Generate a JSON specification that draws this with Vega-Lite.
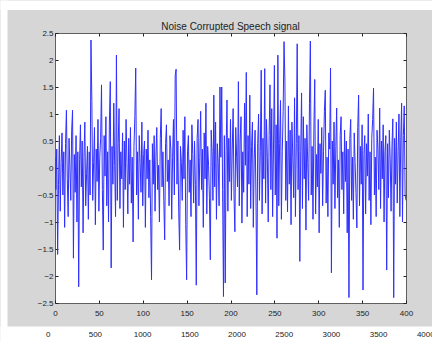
{
"$schema": "https://vega.github.io/schema/vega-lite/v6.json",
"width": 351, "height": 270,
"autosize": "none",
"padding": {"left": 55, "top": 33, "right": 26, "bottom": 38},
"background": "#d6d6d6",
"config": {"view": {"fill": "white", "stroke": "#606060", "strokeWidth": 1},
  "axis": {"labelFont": "Liberation Sans", "labelFontSize": 8, "labelColor": "#222222", "domain": false, "grid": false, "tickColor": "#222222", "tickSize": -3, "title": null}},
"title": {"text": "Noise Corrupted Speech signal", "font": "Liberation Sans", "fontSize": 10, "fontWeight": "normal", "color": "#222222", "offset": 0, "dy": 27, "zindex": 1},
"data": {"values": [
{"x":0,"y":0.2},{"x":1,"y":-0.4},{"x":2,"y":0.35},{"x":3,"y":-1.6},{"x":4,"y":-0.3},{"x":5,"y":0.6},{"x":6,"y":-0.8},{"x":7,"y":0.1},{"x":8,"y":0.65},{"x":9,"y":-0.5},
{"x":10,"y":0.3},{"x":11,"y":-1.1},{"x":12,"y":0.45},{"x":13,"y":1.07},{"x":14,"y":-0.2},{"x":15,"y":-0.9},{"x":16,"y":0.55},{"x":17,"y":0},{"x":18,"y":-0.6},{"x":19,"y":0.7},
{"x":20,"y":1.07},{"x":21,"y":-1.67},{"x":22,"y":0.25},{"x":23,"y":-0.45},{"x":24,"y":0.6},{"x":25,"y":-1},{"x":26,"y":0.3},{"x":27,"y":-2.2},{"x":28,"y":0.15},{"x":29,"y":0.8},
{"x":30,"y":-0.35},{"x":31,"y":0.5},{"x":32,"y":-1.2},{"x":33,"y":0.2},{"x":34,"y":0.85},{"x":35,"y":-0.7},{"x":36,"y":-0.1},{"x":37,"y":0.4},{"x":38,"y":-0.95},{"x":39,"y":0.3},
{"x":40,"y":-0.5},{"x":41,"y":2.37},{"x":42,"y":1.23},{"x":43,"y":-0.6},{"x":44,"y":0.1},{"x":45,"y":0.75},{"x":46,"y":-1.05},{"x":47,"y":0.35},{"x":48,"y":-0.25},{"x":49,"y":0.9},
{"x":50,"y":-0.8},{"x":51,"y":0.2},{"x":52,"y":0.55},{"x":53,"y":1.54},{"x":54,"y":-0.4},{"x":55,"y":-1.52},{"x":56,"y":0.6},{"x":57,"y":-0.15},{"x":58,"y":0.95},{"x":59,"y":-0.7},
{"x":60,"y":0.3},{"x":61,"y":-1},{"x":62,"y":0.85},{"x":63,"y":1.6},{"x":64,"y":-1.85},{"x":65,"y":0.4},{"x":66,"y":-0.3},{"x":67,"y":1.2},{"x":68,"y":0.05},{"x":69,"y":-0.9},
{"x":70,"y":2.09},{"x":71,"y":-0.6},{"x":72,"y":0.45},{"x":73,"y":1.1},{"x":74,"y":-0.75},{"x":75,"y":0.3},{"x":76,"y":-0.2},{"x":77,"y":0.65},{"x":78,"y":-1.1},{"x":79,"y":0.5},
{"x":80,"y":-0.4},{"x":81,"y":0.9},{"x":82,"y":0.1},{"x":83,"y":-0.85},{"x":84,"y":0.55},{"x":85,"y":-0.3},{"x":86,"y":0.75},{"x":87,"y":-0.65},{"x":88,"y":0.2},{"x":89,"y":-1.37},
{"x":90,"y":0.4},{"x":91,"y":0.95},{"x":92,"y":1.85},{"x":93,"y":-0.5},{"x":94,"y":0.3},{"x":95,"y":-0.95},{"x":96,"y":0.6},{"x":97,"y":0.1},{"x":98,"y":-0.45},{"x":99,"y":0.85},
{"x":100,"y":-0.7},{"x":101,"y":0.25},{"x":102,"y":0.5},{"x":103,"y":-1.1},{"x":104,"y":0.35},{"x":105,"y":-0.2},{"x":106,"y":0.7},{"x":107,"y":-0.55},{"x":108,"y":0.15},{"x":109,"y":-0.9},
{"x":110,"y":-2.07},{"x":111,"y":0.45},{"x":112,"y":-0.3},{"x":113,"y":0.6},{"x":114,"y":-0.8},{"x":115,"y":0.2},{"x":116,"y":0.75},{"x":117,"y":-0.4},{"x":118,"y":0.05},{"x":119,"y":-1},
{"x":120,"y":0.55},{"x":121,"y":1.1},{"x":122,"y":-0.35},{"x":123,"y":0.3},{"x":124,"y":-0.6},{"x":125,"y":-1.33},{"x":126,"y":0.45},{"x":127,"y":0.8},{"x":128,"y":-0.25},{"x":129,"y":0.15},
{"x":130,"y":-0.7},{"x":131,"y":0.6},{"x":132,"y":0.35},{"x":133,"y":-0.95},{"x":134,"y":0.2},{"x":135,"y":0.9},{"x":136,"y":-0.5},{"x":137,"y":1.72},{"x":138,"y":1.83},{"x":139,"y":-0.3},
{"x":140,"y":0.5},{"x":141,"y":-0.8},{"x":142,"y":-1.52},{"x":143,"y":0.4},{"x":144,"y":0.1},{"x":145,"y":-0.6},{"x":146,"y":0.7},{"x":147,"y":-0.2},{"x":148,"y":0.95},{"x":149,"y":-1.05},
{"x":150,"y":-2.07},{"x":151,"y":0.3},{"x":152,"y":0.6},{"x":153,"y":-0.45},{"x":154,"y":0.15},{"x":155,"y":-0.9},{"x":156,"y":0.8},{"x":157,"y":0.25},{"x":158,"y":-0.65},{"x":159,"y":0.5},
{"x":160,"y":-0.3},{"x":161,"y":-2.17},{"x":162,"y":0.55},{"x":163,"y":0.9},{"x":164,"y":-0.7},{"x":165,"y":0.2},{"x":166,"y":1.05},{"x":167,"y":-0.4},{"x":168,"y":0.35},{"x":169,"y":-1.1},
{"x":170,"y":0.65},{"x":171,"y":-0.2},{"x":172,"y":1.2},{"x":173,"y":-0.85},{"x":174,"y":0.4},{"x":175,"y":0.05},{"x":176,"y":-0.55},{"x":177,"y":-1.7},{"x":178,"y":0.7},{"x":179,"y":0.3},
{"x":180,"y":-0.6},{"x":181,"y":1.35},{"x":182,"y":-0.35},{"x":183,"y":0.85},{"x":184,"y":-0.95},{"x":185,"y":0.45},{"x":186,"y":0.1},{"x":187,"y":-0.7},{"x":188,"y":1.5},{"x":189,"y":0.2},
{"x":190,"y":1.5},{"x":191,"y":-0.4},{"x":192,"y":-2.38},{"x":193,"y":0.6},{"x":194,"y":-2.13},{"x":195,"y":0.3},{"x":196,"y":1.26},{"x":197,"y":-0.8},{"x":198,"y":0.55},{"x":199,"y":-0.25},
{"x":200,"y":0.9},{"x":201,"y":-0.6},{"x":202,"y":0.35},{"x":203,"y":1.1},{"x":204,"y":-0.5},{"x":205,"y":-1.18},{"x":206,"y":0.75},{"x":207,"y":0.2},{"x":208,"y":-0.35},{"x":209,"y":1.6},
{"x":210,"y":-0.7},{"x":211,"y":0.5},{"x":212,"y":0.95},{"x":213,"y":-1.02},{"x":214,"y":0.3},{"x":215,"y":-0.45},{"x":216,"y":1.2},{"x":217,"y":0.05},{"x":218,"y":1.77},{"x":219,"y":-0.9},
{"x":220,"y":0.6},{"x":221,"y":-0.3},{"x":222,"y":1.35},{"x":223,"y":-0.75},{"x":224,"y":0.4},{"x":225,"y":0.85},{"x":226,"y":-1.1},{"x":227,"y":0.15},{"x":228,"y":0.7},{"x":229,"y":-0.5},
{"x":230,"y":-2.35},{"x":231,"y":0.45},{"x":232,"y":1},{"x":233,"y":-0.6},{"x":234,"y":0.3},{"x":235,"y":1.81},{"x":236,"y":-0.85},{"x":237,"y":0.55},{"x":238,"y":-0.2},{"x":239,"y":1.84},
{"x":240,"y":-0.65},{"x":241,"y":0.9},{"x":242,"y":0.2},{"x":243,"y":-1},{"x":244,"y":0.6},{"x":245,"y":1.54},{"x":246,"y":-0.4},{"x":247,"y":1.1},{"x":248,"y":-0.9},{"x":249,"y":0.35},
{"x":250,"y":1.9},{"x":251,"y":-0.5},{"x":252,"y":0.8},{"x":253,"y":-1.3},{"x":254,"y":2.09},{"x":255,"y":-0.7},{"x":256,"y":0.45},{"x":257,"y":1.25},{"x":258,"y":-0.95},{"x":259,"y":0.3},
{"x":260,"y":1.05},{"x":261,"y":2.34},{"x":262,"y":1.63},{"x":263,"y":-0.6},{"x":264,"y":0.5},{"x":265,"y":-0.81},{"x":266,"y":1.15},{"x":267,"y":-0.3},{"x":268,"y":0.7},{"x":269,"y":-1.05},
{"x":270,"y":0.85},{"x":271,"y":0.2},{"x":272,"y":-0.55},{"x":273,"y":1.3},{"x":274,"y":-0.9},{"x":275,"y":0.45},{"x":276,"y":2.3},{"x":277,"y":-0.4},{"x":278,"y":0.6},{"x":279,"y":-1.73},
{"x":280,"y":0.3},{"x":281,"y":1.39},{"x":282,"y":-0.75},{"x":283,"y":0.95},{"x":284,"y":-0.2},{"x":285,"y":0.55},{"x":286,"y":-1.15},{"x":287,"y":0.8},{"x":288,"y":0.1},{"x":289,"y":-0.6},
{"x":290,"y":1.2},{"x":291,"y":2.35},{"x":292,"y":-0.5},{"x":293,"y":0.4},{"x":294,"y":-0.95},{"x":295,"y":0.7},{"x":296,"y":1.64},{"x":297,"y":-0.85},{"x":298,"y":0.25},{"x":299,"y":-0.35},
{"x":300,"y":0.9},{"x":301,"y":-1.2},{"x":302,"y":0.45},{"x":303,"y":-0.1},{"x":304,"y":0.75},{"x":305,"y":-0.7},{"x":306,"y":0.3},{"x":307,"y":1.05},{"x":308,"y":1.44},{"x":309,"y":-0.65},
{"x":310,"y":0.2},{"x":311,"y":-0.9},{"x":312,"y":0.65},{"x":313,"y":0.35},{"x":314,"y":1.85},{"x":315,"y":-1.94},{"x":316,"y":0.5},{"x":317,"y":-0.3},{"x":318,"y":0.85},{"x":319,"y":-0.75},
{"x":320,"y":0.4},{"x":321,"y":1.11},{"x":322,"y":-0.55},{"x":323,"y":0.15},{"x":324,"y":-1.1},{"x":325,"y":0.6},{"x":326,"y":0.95},{"x":327,"y":-0.4},{"x":328,"y":0.3},{"x":329,"y":-0.85},
{"x":330,"y":0.7},{"x":331,"y":-0.25},{"x":332,"y":0.5},{"x":333,"y":-1.2},{"x":334,"y":0.35},{"x":335,"y":-2.4},{"x":336,"y":0.55},{"x":337,"y":0.9},{"x":338,"y":-0.6},{"x":339,"y":0.2},
{"x":340,"y":-0.95},{"x":341,"y":0.65},{"x":342,"y":0.1},{"x":343,"y":-0.45},{"x":344,"y":-1.11},{"x":345,"y":0.75},{"x":346,"y":1.35},{"x":347,"y":-0.7},{"x":348,"y":0.4},{"x":349,"y":-0.3},
{"x":350,"y":0.8},{"x":351,"y":-2.26},{"x":352,"y":0.25},{"x":353,"y":0.6},{"x":354,"y":-0.85},{"x":355,"y":0.45},{"x":356,"y":-0.15},{"x":357,"y":1},{"x":358,"y":-0.6},{"x":359,"y":0.3},
{"x":360,"y":-1.05},{"x":361,"y":0.55},{"x":362,"y":0.9},{"x":363,"y":1.48},{"x":364,"y":-0.5},{"x":365,"y":0.2},{"x":366,"y":-0.9},{"x":367,"y":0.7},{"x":368,"y":0.35},{"x":369,"y":-0.4},
{"x":370,"y":1.11},{"x":371,"y":-0.75},{"x":372,"y":0.5},{"x":373,"y":-0.2},{"x":374,"y":0.8},{"x":375,"y":-1},{"x":376,"y":0.3},{"x":377,"y":0.6},{"x":378,"y":-1.89},{"x":379,"y":0.45},
{"x":380,"y":-0.55},{"x":381,"y":0.7},{"x":382,"y":0.15},{"x":383,"y":-0.8},{"x":384,"y":0.4},{"x":385,"y":0.91},{"x":386,"y":-2.4},{"x":387,"y":0.55},{"x":388,"y":-0.3},{"x":389,"y":0.85},
{"x":390,"y":-0.65},{"x":391,"y":0.3},{"x":392,"y":1},{"x":393,"y":-0.9},{"x":394,"y":0.5},{"x":395,"y":1.2},{"x":396,"y":-1},{"x":397,"y":0.6},{"x":398,"y":1.15},{"x":399,"y":-0.5},
{"x":400,"y":-0.6}
]},
"layer": [
 {"mark": {"type": "line", "color": "#2f2fff", "strokeWidth": 1, "clip": true},
  "encoding": {
   "x": {"field": "x", "type": "quantitative", "scale": {"domain": [0, 400], "nice": false, "zero": false},
         "axis": {"orient": "bottom", "values": [0,50,100,150,200,250,300,350,400], "labelPadding": 9, "labelFlush": false}},
   "y": {"field": "y", "type": "quantitative", "scale": {"domain": [-2.5, 2.5], "nice": false},
         "axis": {"orient": "left", "values": [-2.5,-2,-1.5,-1,-0.5,0,0.5,1,1.5,2,2.5], "format": "~g", "labelPadding": 5, "labelFlush": false}}
  }},
 {"mark": {"type": "point", "opacity": 0},
  "encoding": {
   "x": {"field": "x", "type": "quantitative", "scale": {"domain": [0, 400], "nice": false, "zero": false},
         "axis": {"orient": "top", "labels": false, "values": [0,50,100,150,200,250,300,350,400]}},
   "y": {"field": "y", "type": "quantitative", "scale": {"domain": [-2.5, 2.5], "nice": false},
         "axis": {"orient": "right", "labels": false, "values": [-2.5,-2,-1.5,-1,-0.5,0,0.5,1,1.5,2,2.5]}}
  }},
 {"mark": {"type": "point", "opacity": 0},
  "encoding": {
   "x": {"field": "x", "type": "quantitative", "scale": {"domain": [-505, 4071], "range": [-55, 377], "nice": false, "zero": false},
         "axis": {"orient": "bottom", "offset": 31, "ticks": false, "labels": false, "domain": true, "domainColor": "white", "domainWidth": 16}}
  }},
 {"mark": {"type": "point", "opacity": 0},
  "encoding": {
   "x": {"field": "x", "type": "quantitative", "scale": {"domain": [-505, 4071], "range": [-55, 377], "nice": false, "zero": false},
         "axis": {"orient": "top", "offset": 28.25, "ticks": false, "labels": false, "domain": true, "domainColor": "white", "domainWidth": 9.5}},
   "y": {"field": "y", "type": "quantitative", "scale": {"domain": [-2.5, 2.5], "range": [308, -33], "nice": false, "zero": false},
         "axis": {"orient": "left", "offset": 51.5, "ticks": false, "labels": false, "domain": true, "domainColor": "white", "domainWidth": 7}}
  }},
 {"mark": {"type": "point", "opacity": 0},
  "encoding": {
   "x": {"field": "x", "type": "quantitative", "scale": {"domain": [-505, 4071], "range": [-55, 377], "nice": false, "zero": false},
         "axis": {"orient": "bottom", "offset": 31, "ticks": false, "domain": false, "labelPadding": 0, "labelBaseline": "middle", "labelFlush": false, "labelOverlap": false, "format": "d", "values": [0,500,1000,1500,2000,2500,3000,3500,4000]}}
  }}
],
"resolve": {"scale": {"x": "independent", "y": "independent"}, "axis": {"x": "independent", "y": "independent"}}
}
